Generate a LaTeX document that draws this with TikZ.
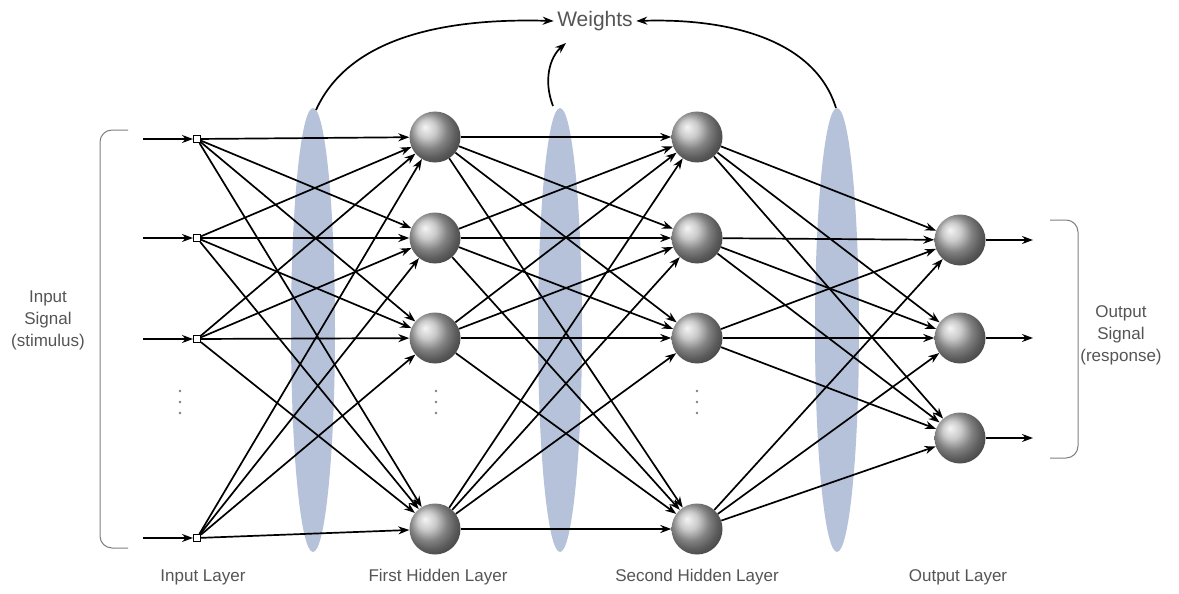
\documentclass[tikz,border=0pt]{standalone}
\usepackage{fontspec}
\setmainfont{Liberation Sans}
\usetikzlibrary{arrows.meta}
\definecolor{wblue}{RGB}{182,194,217}
\definecolor{txt}{RGB}{85,85,85}
\begin{document}
\begin{tikzpicture}[x=1pt,y=-1pt,
  conn/.style={line width=1.7pt, -{Stealth[length=11pt,width=8pt]}},
  neuron/.style={circle, minimum size=51pt, inner sep=0pt, shading=ball, ball color=gray!55},
  inp/.style={rectangle, draw, fill=white, minimum size=7pt, inner sep=0pt, line width=1pt},
  lbl/.style={text=txt, font=\fontsize{17}{22}\selectfont, align=center},
  wt/.style={fill=wblue, draw=none},
  brk/.style={draw=gray, line width=1pt, rounded corners=12pt},
  vdot/.style={fill=gray, draw=none}
]
\useasboundingbox (0,0) rectangle (1179,594);
\fill[white] (0,0) rectangle (1179,594);

% weight ellipses
\fill[wt] (313,330) ellipse [x radius=22pt, y radius=222pt];
\fill[wt] (560,330) ellipse [x radius=22pt, y radius=222pt];
\fill[wt] (837,330) ellipse [x radius=22pt, y radius=222pt];

% brackets
\draw[brk] (128,130) -| (100,548) -- (128,548);
\draw[brk] (1050,220) -| (1078,458) -- (1050,458);

% input nodes
\node[inp] (i1) at (197,139) {};
\node[inp] (i2) at (197,238) {};
\node[inp] (i3) at (197,339) {};
\node[inp] (i4) at (197,538) {};

% first hidden
\node[neuron] (h1) at (435,137) {};
\node[neuron] (h2) at (435,238) {};
\node[neuron] (h3) at (435,338) {};
\node[neuron] (h4) at (435,529) {};

% second hidden
\node[neuron] (g1) at (697,137) {};
\node[neuron] (g2) at (697,238) {};
\node[neuron] (g3) at (697,338) {};
\node[neuron] (g4) at (697,529) {};

% output
\node[neuron] (o1) at (960,240) {};
\node[neuron] (o2) at (960,338) {};
\node[neuron] (o3) at (960,438) {};

% vertical dots
\foreach \x in {180,436,697} {
  \foreach \y in {391,402,413} {
    \fill[vdot] (\x,\y) circle (1.3pt);
  }
}

% input arrows
\coordinate (s1) at (143,139);
\coordinate (s2) at (143,238);
\coordinate (s3) at (143,339);
\coordinate (s4) at (143,538);
\foreach \a in {1,...,4} { \draw[conn] (s\a) -- (i\a); }

% connections
\foreach \a in {1,...,4} {
  \foreach \b in {1,...,4} {
    \draw[conn] (i\a) -- (h\b);
    \draw[conn] (h\a) -- (g\b);
  }
  \foreach \b in {1,...,3} {
    \draw[conn] (g\a) -- (o\b);
  }
}

% output arrows
\coordinate (e1) at (1033,240);
\coordinate (e2) at (1033,338);
\coordinate (e3) at (1033,438);
\foreach \a in {1,...,3} { \draw[conn] (o\a) -- (e\a); }

% weights
\node[lbl, font=\fontsize{21}{24}\selectfont] (W) at (595,21) {Weights};
\coordinate (t1) at (316,110);
\coordinate (t2) at (553,106);
\coordinate (t2e) at (566,43);
\coordinate (t3) at (836,108);
\draw[conn] (t1) .. controls (350,35) and (450,18) .. (W.west);
\draw[conn] (t2) .. controls (543,80) and (550,57) .. (t2e);
\draw[conn] (t3) .. controls (815,40) and (730,18) .. (W.east);

% side labels
\node[lbl] (inlbl) at (48,320) {Input\\Signal\\(stimulus)};
\node[lbl] (outlbl) at (1121,335) {Output\\Signal\\(response)};

% bottom labels
\node[lbl] (l1) at (203,577) {Input Layer};
\node[lbl] (l2) at (438,577) {First Hidden Layer};
\node[lbl] (l3) at (697,577) {Second Hidden Layer};
\node[lbl] (l4) at (958,577) {Output Layer};
\end{tikzpicture}
\end{document}
